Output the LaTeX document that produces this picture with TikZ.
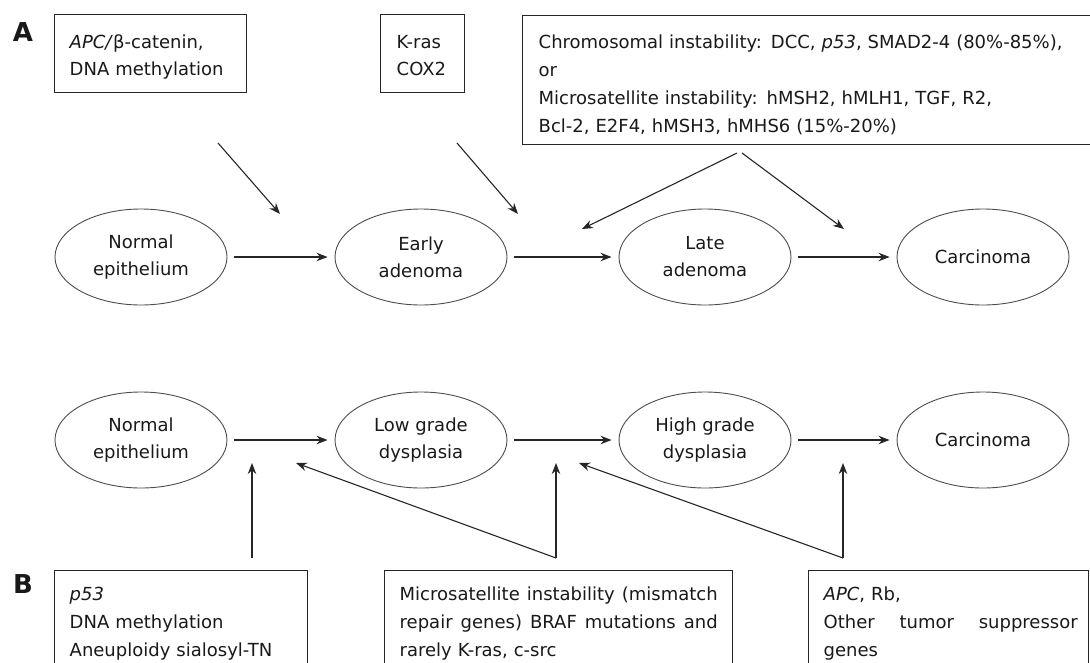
\documentclass[tikz,border=0pt]{standalone}
\usepackage{fontspec}
\setmainfont{DejaVu Sans}[ItalicFont={DejaVu Sans Oblique},BoldFont={DejaVu Sans Bold},BoldItalicFont={DejaVu Sans Bold Oblique}]
\usetikzlibrary{arrows.meta,shapes.geometric}
\begin{document}
\begin{tikzpicture}[x=1pt,y=-1pt,
  every node/.style={text=black!90},
  lab/.style={font=\fontsize{26}{26}\selectfont\bfseries},
  ell/.style={ellipse,draw=black!70,line width=0.9pt,minimum width=172pt,minimum height=96pt,inner sep=0pt,align=center,font=\fontsize{18}{27}\selectfont},
  box/.style={draw=black!85,line width=1.4pt,align=left,anchor=north west,inner ysep=0pt,inner xsep=15pt,font=\fontsize{18}{27}\selectfont},
  arr/.style={draw=black!85,line width=1.1pt,-{Stealth[length=11pt,width=8.5pt]}},
  hop/.style={arr,shorten <=7pt,shorten >=7pt}
]
\useasboundingbox (0,0) rectangle (1090,662);
\clip (0,0) rectangle (1090,662);

% labels
\node[lab] (la) at (23,32) {A};
\node[lab] (lb) at (23,584) {B};

% top boxes
\node[box,text width=162pt,text height=33.6pt,text depth=44.4pt] (t1) at (54,14)
  {\textit{APC/}β-catenin,\\DNA methylation};
\node[box,inner xsep=16pt,text width=52pt,text height=33.6pt,text depth=44.4pt] (t2) at (380,14)
  {K-ras\\COX2};
\node[box,inner xsep=16pt,text width=560pt,text height=32.6pt,text depth=96.4pt,font=\fontsize{18}{28}\selectfont] (t3) at (522,15)
  {Chromosomal instability: DCC, \textit{p53}, SMAD2-4 (80\%-85\%),\\or\\Microsatellite instability: hMSH2, hMLH1, TGF, R2,\\Bcl-2, E2F4, hMSH3, hMHS6 (15\%-20\%)};

% row A
\node[ell] (a1) at (141,257) {Normal\\epithelium};
\node[ell] (a2) at (421,257) {Early\\adenoma};
\node[ell] (a3) at (705,257) {Late\\adenoma};
\node[ell] (a4) at (983,257) {Carcinoma};
\draw[hop] (a1) -- (a2);
\draw[hop] (a2) -- (a3);
\draw[hop] (a3) -- (a4);

\coordinate (s1) at (218,143);
\coordinate (e1) at (280,214);
\coordinate (s2) at (457,143);
\coordinate (e2) at (518,214);
\coordinate (s3) at (737,153);
\coordinate (e3) at (582,229);
\coordinate (s4) at (742,153);
\coordinate (e4) at (844,229);
\draw[arr] (s1) -- (e1);
\draw[arr] (s2) -- (e2);
\draw[arr] (s3) -- (e3);
\draw[arr] (s4) -- (e4);

% row B
\node[ell] (b1) at (141,440) {Normal\\epithelium};
\node[ell] (b2) at (421,440) {Low grade\\dysplasia};
\node[ell] (b3) at (705,440) {High grade\\dysplasia};
\node[ell] (b4) at (983,440) {Carcinoma};
\draw[hop] (b1) -- (b2);
\draw[hop] (b2) -- (b3);
\draw[hop] (b3) -- (b4);

% bottom boxes
\node[box,text width=223pt,text height=29.5pt,text depth=70pt,font=\fontsize{18}{28}\selectfont] (m1) at (54,570)
  {\textit{p53}\\DNA methylation\\Aneuploidy sialosyl-TN};
\node[box,text width=318pt,text height=29.5pt,text depth=70pt,font=\fontsize{18}{28}\selectfont] (m2) at (384,570)
  {\makebox[318pt][l]{Microsatellite\hfill instability\hfill (mismatch}\\\makebox[318pt][l]{repair\hfill genes)\hfill BRAF\hfill mutations\hfill and}\\rarely K-ras, c-src};
\node[box,text width=250pt,text height=29.5pt,text depth=70pt,font=\fontsize{18}{28}\selectfont] (m3) at (808,570)
  {\textit{APC}, Rb,\\\makebox[254pt][l]{Other\hfill tumor\hfill suppressor}\\genes};

\coordinate (u1) at (252,558);
\coordinate (v1) at (252,463);
\coordinate (u2) at (556,558);
\coordinate (v2) at (296,463);
\coordinate (w2) at (556,463);
\coordinate (u3) at (843,558);
\coordinate (v3) at (579,463);
\coordinate (w3) at (843,463);
\draw[arr] (u1) -- (v1);
\draw[arr] (u2) -- (v2);
\draw[arr] (u2) -- (w2);
\draw[arr] (u3) -- (v3);
\draw[arr] (u3) -- (w3);
\end{tikzpicture}
\end{document}
